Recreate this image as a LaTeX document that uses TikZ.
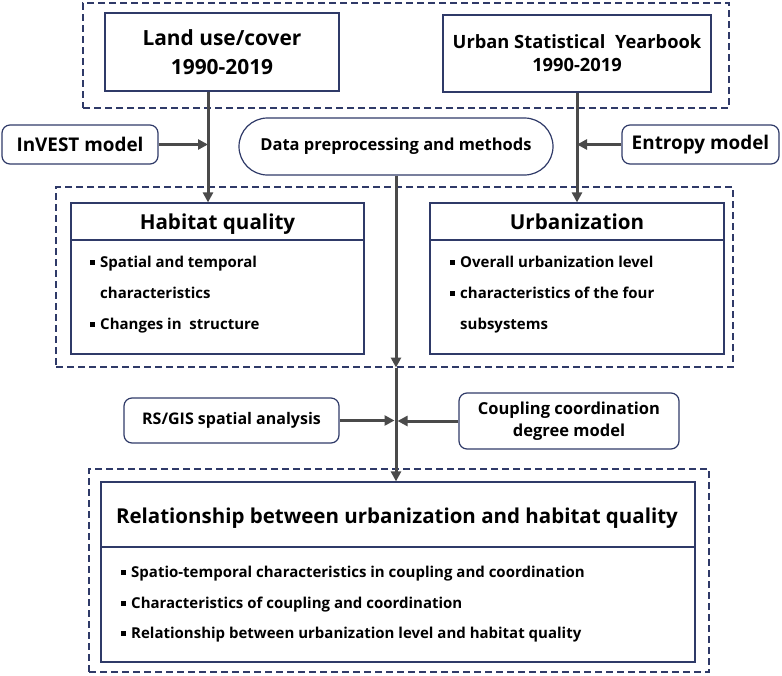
\documentclass[tikz,border=0pt]{standalone}
\usepackage{fontspec}
\setmainfont{Open Sans}
\usetikzlibrary{arrows.meta,calc}
\definecolor{navy}{HTML}{2F3A68}
\definecolor{agray}{HTML}{4A4A4A}
\newcommand{\bul}{\makebox[10pt][l]{\raisebox{2.5pt}{\rule{5pt}{5pt}}}}
\begin{document}
\begin{tikzpicture}[x=1pt,y=1pt,font=\bfseries,
  box/.style={draw=navy,line width=1.2pt,inner sep=0pt,align=center},
  rbox/.style={box,rounded corners=8pt},
  dbox/.style={draw=navy,line width=1.1pt,dash pattern=on 7pt off 4pt,inner sep=0pt},
  arr/.style={draw=agray,line width=3pt,-{Triangle[length=10pt,width=10pt]}},
  txt/.style={inner sep=0pt,anchor=base west},
  ttl/.style={inner sep=0pt,anchor=base}]
\useasboundingbox (0,0) rectangle (782,-675);
% groups
\node[dbox,minimum width=646pt,minimum height=105pt] (g1) at (406,-55.5) {};
\node[dbox,minimum width=677pt,minimum height=180pt] (g2) at (394.5,-277) {};
\node[dbox,minimum width=620pt,minimum height=203pt] (g3) at (399,-570.5) {};
% top boxes
\node[box,minimum width=234pt,minimum height=78pt,font=\bfseries\fontsize{20.9}{29}\selectfont] (land) at (222,-52) {Land use/cover\\1990-2019};
\node[box,minimum width=268pt,minimum height=77pt,font=\bfseries\fontsize{18.3}{23}\selectfont] (urban) at (577,-53.5) {Urban Statistical\ \ Yearbook\\1990-2019};
\node[rbox,minimum width=156pt,minimum height=39pt,font=\bfseries\fontsize{18.9}{24}\selectfont] (inv) at (80,-144.5) {InVEST model};
\node[box,rounded corners=28.5pt,minimum width=314pt,minimum height=57pt,font=\bfseries\fontsize{16.5}{20}\selectfont] (dp) at (396,-146.5) {Data preprocessing and methods};
\node[rbox,minimum width=157pt,minimum height=39pt,font=\bfseries\fontsize{18.9}{24}\selectfont] (ent) at (700.5,-144.5) {Entropy model};
% habitat / urbanization
\node[box,minimum width=293pt,minimum height=151pt] (hab) at (217.5,-278.5) {};
\node[box,minimum width=294pt,minimum height=151pt] (urb) at (577,-278.5) {};
\coordinate (hd) at (0,-240);
\draw[navy,line width=1.2pt] (hab.west |- hd) -- (hab.east |- hd);
\draw[navy,line width=1.2pt] (urb.west |- hd) -- (urb.east |- hd);
\node[ttl,font=\bfseries\fontsize{20.6}{26}\selectfont] (habt) at (217.5,-229) {Habitat quality};
\node[ttl,font=\bfseries\fontsize{20.6}{26}\selectfont] (urbt) at (577,-229) {Urbanization};
\begin{scope}[every node/.style={txt,font=\bfseries\fontsize{15}{18}\selectfont}]
\node (h1) at (90,-267) {\bul Spatial and temporal};
\node (h2) at (100,-298) {characteristics};
\node (h3) at (90,-329) {\bul Changes in\ \ structure};
\node (u1) at (450,-267) {\bul Overall urbanization level};
\node (u2) at (450,-298) {\bul characteristics of the four};
\node (u3) at (460,-329) {subsystems};
\end{scope}
% middle
\node[rbox,minimum width=215pt,minimum height=45pt,font=\bfseries\fontsize{16}{20}\selectfont] (rs) at (231.5,-420.5) {RS/GIS spatial analysis};
\node[rbox,minimum width=220pt,minimum height=56pt,font=\bfseries\fontsize{16.5}{21.7}\selectfont] (cc) at (569,-421) {Coupling coordination\\degree model};
% relationship
\node[box,minimum width=594pt,minimum height=180pt] (rel) at (398,-572) {};
\coordinate (rd) at (0,-547);
\draw[navy,line width=1.2pt] (rel.west |- rd) -- (rel.east |- rd);
\node[ttl,font=\bfseries\fontsize{20.5}{27}\selectfont] (relt) at (397,-523) {Relationship between urbanization and habitat quality};
\begin{scope}[every node/.style={txt,font=\bfseries\fontsize{15}{18}\selectfont}]
\node (r1) at (121,-577) {\bul Spatio-temporal characteristics in coupling and coordination};
\node (r2) at (121,-608) {\bul Characteristics of coupling and coordination};
\node (r3) at (121,-638) {\bul Relationship between urbanization level and habitat quality};
\end{scope}
% connectors
\coordinate (ax) at (208,0);
\draw[arr] (ax |- land.south) -- (ax |- hab.north);
\draw[arr] (inv.east) -- (inv.east -| ax);
\draw[arr] (urban.south) -- (urb.north);
\draw[arr] (ent.west) -- (ent.west -| urban.south);
\coordinate (j) at (dp.south |- g2.south);
\draw[arr] (dp.south) -- (j);
\draw[arr] (j) -- (rel.north -| j);
\draw[arr] (rs.east) -- ($(rs.east -| j)+(-1.5,0)$);
\draw[arr] (cc.west) -- ($(cc.west -| j)+(1.5,0)$);
\end{tikzpicture}
\end{document}
